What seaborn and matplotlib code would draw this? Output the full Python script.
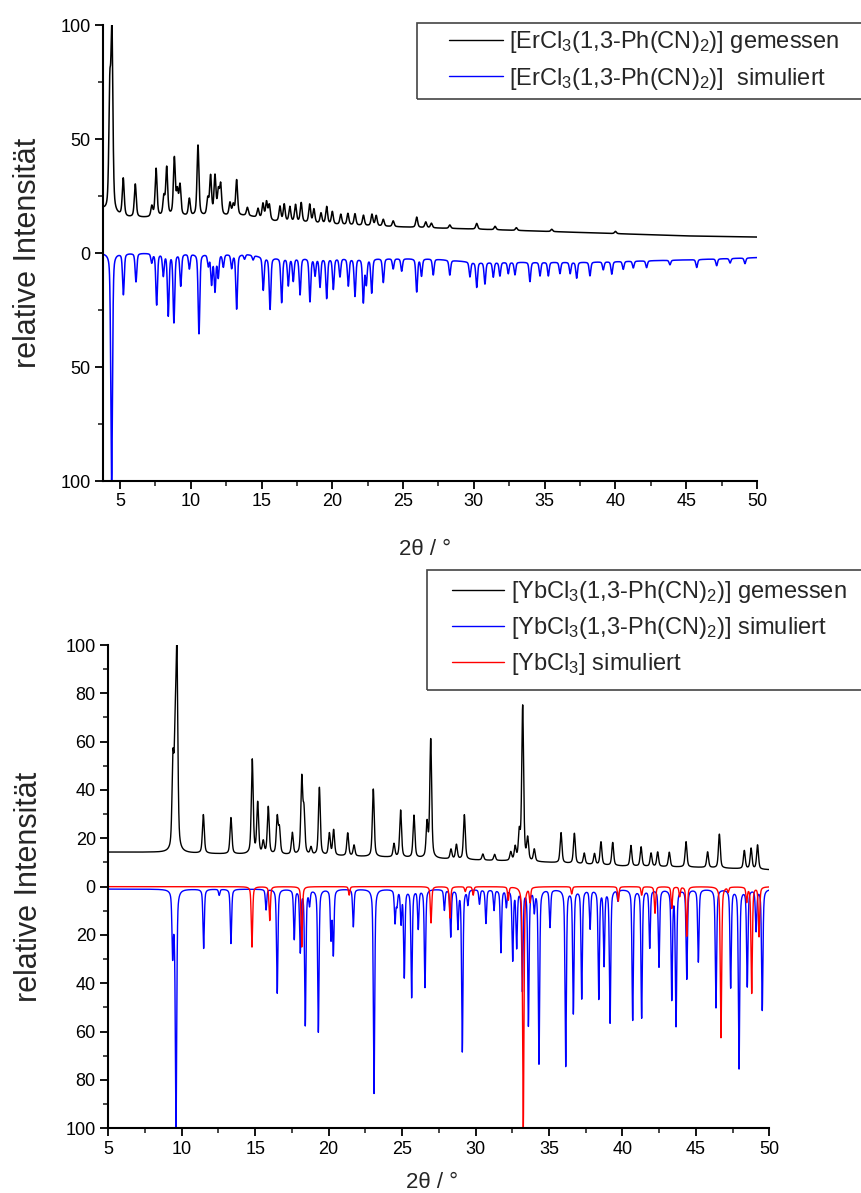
import numpy as np
import pandas as pd
import matplotlib
matplotlib.use("Agg")
import matplotlib.pyplot as plt
import seaborn as sns
from matplotlib.ticker import MultipleLocator, FuncFormatter
from matplotlib.patches import Rectangle
from matplotlib.lines import Line2D

# ---------------- data ----------------
# Top: [ErCl3(1,3-Ph(CN)2)] measured - peak positions (2theta) and heights above background
er_meas_pos = [4.28, 4.43, 5.23, 6.08, 7.25, 7.55, 8.10, 8.30, 8.84, 9.05, 9.24, 9.90, 10.51,
               11.20, 11.40, 11.71, 11.95, 12.11, 12.77, 13.00, 13.24, 14.00, 14.75, 15.10,
               15.35, 15.55, 16.30, 16.60, 17.00, 17.40, 17.80, 18.40, 18.70, 19.20, 19.60,
               20.00, 20.60, 21.10, 21.60, 22.20, 22.80, 23.10, 23.60, 24.30, 25.96, 26.60,
               27.00, 28.30, 30.20, 31.50, 33.00, 35.50, 40.00]
er_meas_int = [50, 78, 16.5, 14.5, 4.5, 21, 8, 21, 25, 10, 13, 7.5, 31,
               7, 17, 17, 10, 13, 5.5, 4.5, 15.5, 3.5, 4, 6.5,
               7.5, 6.5, 6.5, 7.5, 6.5, 7.5, 8.5, 8, 6, 4.5, 7.5,
               5.5, 4.5, 5, 5, 4.5, 5, 4.5, 3, 2.5, 4.5, 2.5,
               2, 1.5, 2.5, 1.5, 1.2, 1, 1]
er_meas_bg_x = [3.8, 4.2, 5.5, 7.0, 8.5, 11.0, 14.0, 15.9, 18.0, 20.0, 22.0, 25.0, 27.0, 30.0, 35.0, 40.0, 45.0, 50.0]
er_meas_bg_y = [19, 17, 15.5, 15.5, 16, 16, 16.3, 13.8, 13.3, 12.5, 12, 11.4, 11, 10.5, 9.5, 8.5, 7.5, 7]

# Top: [ErCl3(1,3-Ph(CN)2)] simulated - peak positions and intensities (drawn downwards)
er_sim_pos = [4.41, 5.24, 6.13, 7.24, 7.59, 8.06, 8.41, 8.81, 9.29, 9.90, 10.58, 11.24, 11.47,
              11.71, 11.94, 12.30, 12.89, 13.24, 13.80, 14.40, 15.12, 15.60, 16.42, 16.89,
              17.24, 17.72, 18.42, 18.78, 19.13, 19.60, 20.07, 20.54, 21.13, 21.60, 22.19,
              22.40, 22.78, 23.60, 24.30, 24.90, 25.96, 26.30, 27.13, 28.30, 29.72, 30.20,
              30.78, 31.37, 31.84, 32.43, 32.90, 33.96, 34.67, 35.26, 36.08, 36.80, 37.26,
              38.20, 39.14, 39.74, 40.55, 41.26, 42.20, 43.85, 45.74, 47.15, 48.10, 49.15]
er_sim_int = [100, 18, 12.5, 4, 22.5, 9.5, 27, 30, 14, 6.5, 35, 5, 13,
              16, 10, 5.5, 6, 24, 2, 2, 14.5, 22.5, 19.5, 12,
              10, 16, 19, 7.5, 12.5, 17.5, 13.5, 8, 12, 16.5, 19,
              11, 15, 10.5, 4.5, 5.5, 14.5, 7.5, 7, 6.5, 6.5, 11,
              9.5, 6.5, 6, 5, 5.5, 8.5, 6, 6, 5, 5, 7,
              6, 3.5, 5.5, 3.5, 3, 3, 2, 3.5, 3, 2, 2.5]
er_sim_bg_x = [3.8, 7.0, 14.0, 15.5, 27.0, 30.0, 38.0, 45.0, 50.0]
er_sim_bg_y = [0, 0, 0.5, 2.0, 2.5, 4.0, 4.0, 3.0, 2.0]

# Bottom: [YbCl3(1,3-Ph(CN)2)] measured
yb_meas_pos = [9.40, 9.55, 9.67, 11.47, 13.35, 14.80, 15.17, 15.55, 15.89, 16.50, 16.65, 17.53,
               18.17, 18.32, 18.80, 19.37, 20.05, 20.34, 21.30, 21.73, 23.04, 24.45, 24.90,
               25.81, 26.70, 26.95, 28.33, 28.70, 29.24, 30.50, 31.30, 32.40, 32.70, 32.98,
               33.21, 33.55, 34.00, 35.82, 36.73, 37.40, 38.10, 38.54, 39.34, 40.58, 41.27,
               41.95, 42.40, 43.19, 44.33, 45.80, 46.60, 48.30, 48.76, 49.20]
yb_meas_int = [35, 38, 78, 16, 15, 39, 21, 5, 19.5, 15, 10, 9,
               31, 17, 3, 28, 9, 10.5, 9.5, 4.5, 28, 5.5, 19.5,
               17.5, 14, 49, 4, 6, 18.5, 2.5, 2.5, 3.5, 5.5, 11,
               64, 9, 5, 12.5, 12.5, 4.5, 4.5, 9.5, 9.5, 8.5, 8,
               5.5, 6, 6, 10.5, 6.5, 14, 7.5, 8.5, 10]
yb_meas_bg_x = [5.0, 8.0, 12.0, 20.0, 25.0, 30.0, 35.0, 40.0, 45.0, 50.0]
yb_meas_bg_y = [14.3, 14.2, 13.6, 12.8, 12.0, 11.0, 10.0, 8.5, 8.0, 7.0]

# Bottom: [YbCl3(1,3-Ph(CN)2)] simulated (downwards)
yb_sim_pos = [9.38, 9.50, 9.61, 11.49, 12.55, 13.35, 15.74, 16.50, 17.66, 18.07, 18.41, 18.70,
              19.30, 20.16, 20.32, 21.68, 23.09, 24.52, 24.65, 24.93, 25.15, 25.65, 26.10,
              26.56, 27.88, 28.31, 28.80, 29.10, 29.48, 30.27, 30.71, 31.26, 31.73, 32.10,
              32.53, 32.80, 33.19, 33.60, 34.00, 34.32, 35.07, 36.14, 36.66, 37.23, 37.80,
              38.39, 38.75, 39.16, 39.69, 40.70, 41.31, 41.86, 42.49, 43.36, 43.65, 44.38,
              45.17, 46.37, 47.37, 47.94, 48.50, 49.10, 49.52]
yb_sim_int = [26, 8, 99, 24.5, 2.5, 22.5, 8.5, 43, 20.5, 25.5, 56, 6,
              59, 20, 26.5, 15.5, 84.5, 13.5, 6, 13.5, 36, 44.5, 16,
              40.5, 8.5, 19.5, 15.5, 67, 6, 6, 14, 8.5, 26, 7,
              29, 23.5, 41.5, 56, 8.5, 72, 15.5, 73, 51, 45, 16,
              45, 31, 55, 4.5, 54, 53, 24, 32, 45, 56, 37,
              30, 49, 40.5, 74, 40, 17, 50]

# Bottom: [YbCl3] simulated (downwards)
ybcl3_sim_pos = [14.78, 15.99, 18.17, 21.40, 26.97, 28.26, 29.30, 29.84, 32.23, 33.25, 33.71,
                 36.55, 39.72, 41.31, 42.22, 43.36, 43.90, 44.38, 46.71, 47.20, 48.46, 48.80, 49.30]
ybcl3_sim_int = [25, 14, 25, 3.5, 15, 13, 2, 3.5, 5.5, 100, 6,
                 3, 6, 3.5, 11, 9, 4, 20.5, 62.5, 2, 6, 44, 20.5]

labels_top = ["[ErCl$_3$(1,3-Ph(CN)$_2$)] gemessen",
              "[ErCl$_3$(1,3-Ph(CN)$_2$)]  simuliert"]
labels_bot = ["[YbCl$_3$(1,3-Ph(CN)$_2$)] gemessen",
              "[YbCl$_3$(1,3-Ph(CN)$_2$)] simuliert",
              "[YbCl$_3$] simuliert"]
top_yticks = [-100, -50, 0, 50, 100]
bot_yticks = [-100, -80, -60, -40, -20, 0, 20, 40, 60, 80, 100]
xticks = [5, 10, 15, 20, 25, 30, 35, 40, 45, 50]


# ---------------- rendering helpers ----------------
def profile(x, pos, amp, w, eta):
    y = np.zeros_like(x)
    for c, a in zip(pos, amp):
        d = (x - c) / (w / 2.0)
        lor = 1.0 / (1.0 + d ** 2)
        gau = np.exp(-np.log(2) * d ** 2)
        y += a * (eta * lor + (1 - eta) * gau)
    return y


sns.set_style("white")
plt.rcParams['font.family'] = ['Liberation Sans', 'DejaVu Sans']
plt.rcParams['mathtext.default'] = 'regular'

fig = plt.figure(figsize=(8.62, 11.93), dpi=100)
W, H = 862.0, 1193.0

ax1 = fig.add_axes([103 / W, 1 - 481 / H, (757 - 103) / W, (481 - 25) / H])
ax2 = fig.add_axes([108.3 / W, 1 - 1128.3 / H, (769.3 - 108.3) / W, (1128.3 - 645) / H])

# top
x1 = np.arange(3.8, 50.0001, 0.005)
meas1 = np.interp(x1, er_meas_bg_x, er_meas_bg_y) + profile(x1, er_meas_pos, er_meas_int, 0.16, 0.5)
sim1 = -(np.interp(x1, er_sim_bg_x, er_sim_bg_y) + profile(x1, er_sim_pos, er_sim_int, 0.14, 0.4))
df1 = pd.DataFrame({"x": np.concatenate([x1, x1]),
                    "y": np.concatenate([meas1, sim1]),
                    "s": [labels_top[0]] * len(x1) + [labels_top[1]] * len(x1)})
sns.lineplot(data=df1, x="x", y="y", hue="s", palette=["black", "#0000ff"], ax=ax1,
             estimator=None, sort=False, linewidth=1.1, legend=False)

# bottom
x2 = np.arange(5.0, 50.0001, 0.005)
meas2 = np.interp(x2, yb_meas_bg_x, yb_meas_bg_y) + profile(x2, yb_meas_pos, yb_meas_int, 0.15, 0.5)
sim2 = -(1.0 + profile(x2, yb_sim_pos, yb_sim_int, 0.11, 0.5))
sim3 = -profile(x2, ybcl3_sim_pos, ybcl3_sim_int, 0.11, 0.5)
df2 = pd.DataFrame({"x": np.concatenate([x2, x2, x2]),
                    "y": np.concatenate([meas2, sim2, sim3]),
                    "s": [labels_bot[0]] * len(x2) + [labels_bot[1]] * len(x2) + [labels_bot[2]] * len(x2)})
sns.lineplot(data=df2, x="x", y="y", hue="s", palette=["black", "#0000ff", "#ff0000"], ax=ax2,
             estimator=None, sort=False, linewidth=1.0, legend=False)

absfmt = FuncFormatter(lambda v, p: f"{abs(int(round(v)))}")
for ax, xlo, yt, ymin in [(ax1, 3.8, top_yticks, 25), (ax2, 5.0, bot_yticks, 10)]:
    ax.set_xlim(xlo, 50)
    ax.set_ylim(-100, 100)
    ax.set_xticks(xticks)
    ax.set_yticks(yt)
    ax.xaxis.set_minor_locator(MultipleLocator(2.5))
    ax.yaxis.set_minor_locator(MultipleLocator(ymin))
    ax.yaxis.set_major_formatter(absfmt)
    for s in ["top", "right"]:
        ax.spines[s].set_visible(False)
    for s in ["left", "bottom"]:
        ax.spines[s].set_linewidth(1.5)
        ax.spines[s].set_color("black")
    ax.tick_params(which="major", direction="out", length=6, width=1.3, labelsize=13,
                   colors="black", left=True, bottom=True, pad=3)
    ax.tick_params(which="minor", direction="out", length=3.5, width=1.2, left=True, bottom=True)
    ax.set_ylabel("relative Intensität", fontsize=22)
    ax.set_xlabel("2θ / °", fontsize=16)
    ax.set_facecolor("white")

ax1.yaxis.set_label_coords(-0.092, 0.5)
ax1.xaxis.set_label_coords(0.492, -0.128)
ax2.yaxis.set_label_coords(-0.098, 0.5)
ax2.xaxis.set_label_coords(0.49, -0.091)

# legends
h_top = [Line2D([], [], color="black", lw=1.0), Line2D([], [], color="#0000ff", lw=1.0)]
h_bot = [Line2D([], [], color="black", lw=1.0), Line2D([], [], color="#0000ff", lw=1.0),
         Line2D([], [], color="#ff0000", lw=1.0)]
fig.legend(h_top, labels_top, loc="upper left", bbox_to_anchor=(449 / W, 1 - 29 / H),
           bbox_transform=fig.transFigure, frameon=False, fontsize=17, borderpad=0,
           borderaxespad=0, handlelength=2.3, handletextpad=0.25, labelspacing=0.45)
fig.legend(h_bot, labels_bot, loc="upper left", bbox_to_anchor=(452 / W, 1 - 579 / H),
           bbox_transform=fig.transFigure, frameon=False, fontsize=17, borderpad=0,
           borderaxespad=0, handlelength=2.2, handletextpad=0.3, labelspacing=0.42)
fig.patches.append(Rectangle((417 / W, 1 - 99 / H), (880 - 417) / W, (99 - 22.7) / H,
                             transform=fig.transFigure, fill=False, edgecolor="#444444", lw=1.2))
fig.patches.append(Rectangle((427 / W, 1 - 690 / H), (880 - 427) / W, (690 - 570) / H,
                             transform=fig.transFigure, fill=False, edgecolor="#444444", lw=1.2))

fig.savefig("out.png", dpi=100, facecolor="white")
